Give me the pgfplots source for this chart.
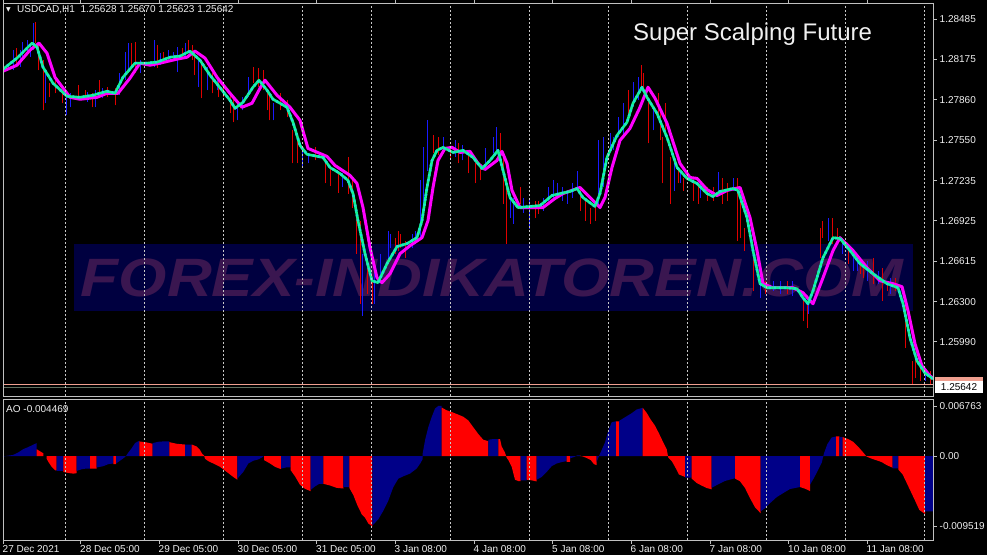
\documentclass[border=0pt]{standalone}
\usepackage{fontspec}
\setmainfont{Liberation Sans}
\newfontfamily\dejavu{DejaVu Sans}
\usepackage{graphicx}
\usepackage{pgfplots}
\pgfplotsset{compat=1.18}
\usepackage{pgfplotstable}

\definecolor{framecol}{HTML}{C0C0C0}
\definecolor{gridcol}{HTML}{C8C8C8}
\definecolor{labelcol}{HTML}{F0F0F0}
\definecolor{cblue}{HTML}{1A1AFF}
\definecolor{cred}{HTML}{E00000}
\definecolor{fastcol}{HTML}{10F590}
\definecolor{fastcol2}{HTML}{20E0D0}
\definecolor{slowcol}{HTML}{FF00FF}
\definecolor{aoblue}{HTML}{000088}
\definecolor{aored}{HTML}{FF0000}
\definecolor{wmbg}{HTML}{000040}
\definecolor{wmtext}{HTML}{3A1650}
\definecolor{askcol}{HTML}{F0A090}
\definecolor{bidcol}{HTML}{607060}

\pgfplotstableread{
x lo hi
13 1.28089 1.28244
20 1.28113 1.28244
22 1.28190 1.28306
27 1.28221 1.28322
30 1.28190 1.28299
33 1.28244 1.28454
45 1.27834 1.28089
66 1.27741 1.27934
70 1.27803 1.27911
87 1.27842 1.27919
95 1.27803 1.27934
102 1.27872 1.27950
119 1.27896 1.28066
125 1.28012 1.28229
128 1.28066 1.28299
140 1.28066 1.28167
154 1.28113 1.28322
160 1.28128 1.28221
168 1.28167 1.28244
173 1.28167 1.28229
177 1.28074 1.28268
185 1.28190 1.28299
198 1.27958 1.28167
207 1.27934 1.28113
217 1.27934 1.28035
237 1.27702 1.27857
242 1.27779 1.27880
248 1.27880 1.28035
273 1.27702 1.27834
302 1.27338 1.27469
308 1.27369 1.27446
342 1.27183 1.27291
362 1.26191 1.26671
374 1.26284 1.26617
380 1.26462 1.26671
388 1.26617 1.26849
390 1.26718 1.26826
412 1.26718 1.26826
415 1.26749 1.26849
420 1.26795 1.27237
423 1.27059 1.27493
427 1.27314 1.27702
443 1.27469 1.27570
455 1.27415 1.27547
462 1.27392 1.27508
485 1.27314 1.27485
493 1.27446 1.27570
496 1.27469 1.27648
510 1.26950 1.27136
513 1.26904 1.27105
523 1.26989 1.27098
529 1.26865 1.27105
543 1.27004 1.27105
548 1.27082 1.27183
553 1.27082 1.27237
557 1.27105 1.27214
562 1.27082 1.27183
567 1.27059 1.27159
572 1.27105 1.27214
577 1.27159 1.27314
598 1.27059 1.27547
603 1.27183 1.27570
610 1.27469 1.27601
613 1.27469 1.27570
618 1.27570 1.27725
623 1.27570 1.27834
633 1.27818 1.27996
638 1.27857 1.28035
653 1.27624 1.27779
674 1.27159 1.27369
680 1.27214 1.27314
700 1.27105 1.27214
718 1.27159 1.27299
733 1.27159 1.27260
760 1.26330 1.26485
773 1.26384 1.26462
780 1.26361 1.26462
792 1.26346 1.26462
808 1.26206 1.26330
828 1.26772 1.26950
842 1.26671 1.26795
853 1.26539 1.26694
857 1.26539 1.26640
867 1.26462 1.26617
878 1.26439 1.26539
890 1.26361 1.26485
925 1.25687 1.25788
}\bluecandles

\pgfplotstableread{
x lo hi
3 1.28027 1.28113
16 1.28128 1.28260
35 1.28299 1.28461
38 1.28089 1.28299
43 1.27779 1.28167
49 1.27880 1.27989
55 1.27911 1.28012
62 1.27834 1.27934
78 1.27872 1.27973
85 1.27857 1.27934
92 1.27803 1.27911
99 1.27911 1.28012
107 1.27880 1.27958
115 1.27818 1.27950
131 1.28113 1.28299
135 1.28066 1.28306
157 1.28105 1.28283
163 1.28144 1.28229
182 1.28183 1.28260
188 1.28229 1.28322
192 1.28167 1.28283
194 1.28051 1.28221
201 1.27872 1.28167
212 1.27911 1.28066
218 1.27880 1.28012
223 1.27880 1.27989
230 1.27756 1.27911
233 1.27686 1.27872
253 1.27989 1.28113
258 1.27958 1.28105
263 1.27934 1.28089
267 1.27779 1.27934
269 1.27702 1.27911
280 1.27779 1.27911
287 1.27725 1.27857
292 1.27369 1.27624
297 1.27369 1.27570
315 1.27392 1.27493
325 1.27214 1.27392
330 1.27198 1.27338
338 1.27144 1.27314
348 1.27136 1.27415
352 1.27028 1.27237
356 1.26671 1.27028
360 1.26284 1.26927
367 1.26361 1.26563
372 1.26284 1.26462
395 1.26671 1.26795
398 1.26694 1.26849
400 1.26718 1.26826
405 1.26640 1.26772
433 1.27446 1.27586
438 1.27431 1.27570
450 1.27407 1.27485
458 1.27369 1.27524
468 1.27291 1.27446
475 1.27214 1.27369
480 1.27237 1.27338
500 1.27369 1.27601
503 1.27059 1.27446
506 1.26749 1.27183
520 1.27059 1.27183
535 1.26950 1.27082
538 1.26981 1.27082
580 1.27004 1.27183
585 1.26927 1.27105
590 1.26904 1.27028
595 1.26927 1.27059
628 1.27725 1.27934
641 1.27958 1.28128
643 1.27911 1.28066
648 1.27524 1.27857
658 1.27725 1.27911
660 1.27547 1.27779
662 1.27214 1.27570
665 1.27624 1.27834
670 1.27059 1.27415
678 1.27214 1.27338
683 1.27159 1.27260
693 1.27082 1.27260
698 1.27059 1.27214
707 1.27082 1.27183
713 1.27082 1.27183
722 1.27059 1.27260
727 1.27082 1.27214
737 1.26772 1.27260
740 1.26795 1.27105
744 1.26694 1.26873
753 1.26384 1.26671
765 1.26361 1.26462
787 1.26361 1.26462
803 1.26152 1.26330
807 1.26098 1.26284
820 1.26640 1.26873
822 1.26795 1.26927
832 1.26749 1.26950
837 1.26749 1.26873
848 1.26594 1.26749
860 1.26516 1.26640
863 1.26485 1.26594
873 1.26439 1.26640
882 1.26307 1.26563
887 1.26384 1.26462
895 1.26384 1.26485
905 1.25943 1.26284
912 1.25664 1.25842
915 1.25710 1.25865
920 1.25687 1.25819
930 1.25664 1.25764
}\redcandles

\pgfplotstableread{
x y
3 1.28097
17 1.28183
32 1.28299
37 1.28268
43 1.28113
53 1.27989
67 1.27888
80 1.27880
93 1.27896
107 1.27927
115 1.27911
123 1.28035
135 1.28144
147 1.28144
157 1.28152
170 1.28190
180 1.28198
190 1.28237
200 1.28167
210 1.28051
222 1.27935
230 1.27857
235 1.27795
243 1.27842
253 1.27958
259 1.28012
267 1.27935
273 1.27865
287 1.27803
293 1.27687
300 1.27508
307 1.27439
323 1.27415
330 1.27338
340 1.27291
348 1.27237
353 1.27136
358 1.26927
365 1.26671
372 1.26462
378 1.26447
387 1.26594
397 1.26726
407 1.26749
417 1.26795
422 1.26927
427 1.27183
432 1.27392
437 1.27470
443 1.27493
453 1.27454
463 1.27470
473 1.27415
482 1.27330
490 1.27392
498 1.27470
503 1.27315
510 1.27105
518 1.27028
530 1.27036
540 1.27043
552 1.27121
560 1.27136
570 1.27152
577 1.27175
583 1.27105
595 1.27036
600 1.27136
607 1.27415
617 1.27586
627 1.27687
633 1.27834
642 1.27958
647 1.27880
657 1.27756
667 1.27570
677 1.27338
687 1.27253
697 1.27214
707 1.27136
713 1.27113
720 1.27152
733 1.27175
738 1.27160
747 1.26950
753 1.26695
760 1.26439
767 1.26408
787 1.26408
797 1.26400
803 1.26330
808 1.26284
813 1.26385
823 1.26640
833 1.26795
840 1.26788
850 1.26695
860 1.26594
873 1.26516
887 1.26439
898 1.26408
903 1.26284
910 1.26020
917 1.25842
925 1.25749
933 1.25703
}\fastline

\pgfplotsset{
  mtbase/.style={
    scale only axis, width=930pt, xmin=3, xmax=933,
    axis line style={draw=framecol, line width=0.8pt},
    tick style={draw=framecol, line width=0.8pt},
    tick align=outside, major tick length=3.5pt, minor tick length=0pt,
    minor xtick={65,144,223,302,371,450,529,608,687,766,845,924},
    xminorgrids,
    minor x grid style={gridcol, dash pattern=on 2pt off 2pt, line width=0.8pt},
    ytick pos=right, yticklabel pos=right,
    yticklabel style={anchor=west, text=labelcol, font=\fontsize{10}{12}\selectfont, inner sep=0pt, xshift=3pt},
    scaled y ticks=false,
    axis on top,
  },
  candles/.style={draw=none, mark=none, forget plot,
    error bars/.cd, y dir=plus, y explicit, error mark=none,
    error bar style={draw=#1, line width=1pt, solid}},
}

\begin{document}
\begin{tikzpicture}
\useasboundingbox (0,0) rectangle (987pt,555pt);
\fill[black] (0,0) rectangle (987pt,555pt);
% watermark
\fill[wmbg] (74pt,244pt) rectangle (913pt,311pt);
\node[text=wmtext, inner sep=0pt, anchor=center] at (492pt,277.5pt)
  {\scalebox{1.15}[1]{\fontsize{54}{60}\selectfont\bfseries\itshape FOREX-INDIKATOREN.COM}};

% ---------- price panel ----------
\begin{axis}[mtbase,
  at={(3pt,159pt)}, anchor=south west, height=393pt,
  ymin=1.25571, ymax=1.28609,
  xtick={3,80.5,159,238,316.5,395,474,552.5,631,710,788.5,867},
  xticklabels={},
  xtick pos=right,
  ytick={1.28485,1.28175,1.27860,1.27550,1.27235,1.26925,1.26615,1.26300,1.25990},
  yticklabels={1.28485,1.28175,1.27860,1.27550,1.27235,1.26925,1.26615,1.26300,1.25990},
]
\addplot[askcol, line width=0.8pt, forget plot] coordinates {(3,1.25664) (933,1.25664)};
\addplot[bidcol, line width=0.8pt, forget plot] coordinates {(3,1.25640) (933,1.25640)};
\addplot[candles=cblue] table[x=x, y=lo, y error expr=\thisrow{hi}-\thisrow{lo}] {\bluecandles};
\addplot[candles=cred] table[x=x, y=lo, y error expr=\thisrow{hi}-\thisrow{lo}] {\redcandles};
% slow line (magenta)
\addplot[slowcol, line width=3pt, line join=round] coordinates {
(3,1.28082) (17,1.28128) (30,1.28245) (39,1.28299) (47,1.28221) (55,1.28035)
(70,1.27880) (80,1.27865) (97,1.27880) (107,1.27911) (118,1.27911) (130,1.28028)
(140,1.28144) (150,1.28128) (160,1.28144) (177,1.28175) (187,1.28190) (195,1.28237)
(205,1.28183) (217,1.28035) (230,1.27911) (242,1.27803) (252,1.27834) (260,1.27950)
(265,1.28012) (277,1.27896) (290,1.27803) (300,1.27702) (308,1.27485) (327,1.27423)
(335,1.27353) (350,1.27276) (357,1.27214) (363,1.27028) (370,1.26718) (377,1.26485)
(382,1.26447) (390,1.26516) (400,1.26671) (410,1.26733) (422,1.26795) (428,1.26927)
(433,1.27183) (438,1.27392) (445,1.27485) (452,1.27493) (460,1.27454) (470,1.27462)
(478,1.27369) (485,1.27322) (497,1.27392) (502,1.27462) (507,1.27369) (512,1.27160)
(520,1.27028) (533,1.27028) (543,1.27028) (555,1.27098) (563,1.27136) (580,1.27183)
(590,1.27105) (600,1.27028) (605,1.27105) (612,1.27338) (620,1.27547) (630,1.27640)
(640,1.27803) (648,1.27958) (655,1.27873) (667,1.27679) (680,1.27369) (690,1.27260)
(697,1.27253) (707,1.27167) (717,1.27121) (727,1.27160) (740,1.27183) (750,1.26950)
(757,1.26695) (763,1.26439) (773,1.26408) (793,1.26408) (803,1.26369) (813,1.26284)
(823,1.26485) (833,1.26695) (840,1.26795) (853,1.26695) (867,1.26563) (880,1.26462)
(893,1.26439) (902,1.26416) (908,1.26230) (915,1.25974) (922,1.25803) (930,1.25726)
(933,1.25710)};
% fast line (green with cyan stipple)
\addplot[fastcol, line width=2.6pt, line join=round] table[x=x, y=y] {\fastline};
\addplot[fastcol2, line width=2.6pt, line join=round, dash pattern=on 2pt off 3pt, forget plot] table[x=x, y=y] {\fastline};
\end{axis}

% ---------- AO panel ----------
\begin{axis}[mtbase,
  at={(3pt,15pt)}, anchor=south west, height=141pt,
  ymin=-0.01134, ymax=0.007695,
  xtick={3,80.5,159,238,316.5,395,474,552.5,631,710,788.5,867},
  xticklabels={27 Dec 2021,28 Dec 05:00,29 Dec 05:00,30 Dec 05:00,31 Dec 05:00,3 Jan 08:00,4 Jan 08:00,5 Jan 08:00,6 Jan 08:00,7 Jan 08:00,10 Jan 08:00,11 Jan 08:00},
  xtick pos=left,
  xticklabel style={anchor=north west, text=labelcol, font=\fontsize{10}{12}\selectfont, inner sep=0pt, xshift=-0.5pt, yshift=-1.5pt},
  ytick={-0.009519,0,0.006763},
  yticklabels={-0.009519,0.00,0.006763},
]
\addplot[fill=aoblue, draw=none] coordinates {(3,0)(3,-0.00009)(8,0.00005)(13,0.00014)(18,0.00046)(23,0.00091)(28,0.00119)(33,0.00151)(36.7,0.00174)(36.7,0)} \closedcycle;
\addplot[fill=aored, draw=none] coordinates {(36.7,0)(36.7,0.00091)(40,0.00064)(43.3,0.00037)(43.3,0)} \closedcycle;
\addplot[fill=aored, draw=none] coordinates {(46.7,0)(46.7,-0.00037)(48.3,-0.00078)(51.7,-0.00146)(55,-0.00192)(56.7,-0.00195)(56.7,0)} \closedcycle;
\addplot[fill=aoblue, draw=none] coordinates {(56.7,0)(56.7,-0.00201)(63.3,-0.00201)(63.3,0)} \closedcycle;
\addplot[fill=aored, draw=none] coordinates {(63.3,0)(63.3,-0.00215)(68.3,-0.00229)(73.3,-0.00238)(76.7,-0.00232)(76.7,0)} \closedcycle;
\addplot[fill=aoblue, draw=none] coordinates {(76.7,0)(76.7,-0.00201)(81.7,-0.00178)(86.7,-0.00169)(90,-0.00169)(90,0)} \closedcycle;
\addplot[fill=aored, draw=none] coordinates {(90,0)(90,-0.00169)(96.7,-0.00169)(96.7,0)} \closedcycle;
\addplot[fill=aoblue, draw=none] coordinates {(96.7,0)(96.7,-0.00155)(103.3,-0.00137)(108.3,-0.00110)(113.3,-0.00101)(113.3,0)} \closedcycle;
\addplot[fill=aored, draw=none] coordinates {(113.3,0)(113.3,-0.00110)(116,-0.00110)(116,0)} \closedcycle;
\addplot[fill=aoblue, draw=none] coordinates {(116,0)(116,-0.00101)(120,-0.00064)(123.3,-0.00032)(126,0)(128.3,0.00046)(131.7,0.00105)(135,0.00174)(139.3,0.00206)(139.3,0)} \closedcycle;
\addplot[fill=aored, draw=none] coordinates {(139.3,0)(139.3,0.00197)(146.7,0.00183)(152.7,0.00165)(152.7,0)} \closedcycle;
\addplot[fill=aoblue, draw=none] coordinates {(152.7,0)(152.7,0.00174)(158.3,0.00192)(163.3,0.00197)(169.3,0.00197)(169.3,0)} \closedcycle;
\addplot[fill=aored, draw=none] coordinates {(169.3,0)(169.3,0.00187)(176.7,0.00165)(185,0.00155)(185,0)} \closedcycle;
\addplot[fill=aoblue, draw=none] coordinates {(185,0)(185,0.00155)(191.7,0.00155)(191.7,0)} \closedcycle;
\addplot[fill=aored, draw=none] coordinates {(191.7,0)(191.7,0.00155)(196.7,0.00128)(200,0.00082)(202.3,0.00027)(204,0.0001)(205,-0.00037)(208.3,-0.00069)(213.3,-0.00101)(220,-0.00146)(226.7,-0.00215)(233.3,-0.00283)(237.3,-0.00320)(237.3,0)} \closedcycle;
\addplot[fill=aoblue, draw=none] coordinates {(237.3,0)(237.3,-0.00306)(243.3,-0.00215)(248.3,-0.00101)(253.3,-0.00064)(258.3,-0.00046)(263.3,-0.00009)(263.3,0)} \closedcycle;
\addplot[fill=aored, draw=none] coordinates {(264,0)(264,-0.00055)(270,-0.00101)(275,-0.00146)(281,-0.00178)(281,0)} \closedcycle;
\addplot[fill=aoblue, draw=none] coordinates {(281,0)(281,-0.00169)(286,-0.00155)(290.7,-0.00155)(290.7,0)} \closedcycle;
\addplot[fill=aored, draw=none] coordinates {(290.7,0)(290.7,-0.00192)(295,-0.00274)(300,-0.00389)(305,-0.00443)(310.7,-0.00475)(310.7,0)} \closedcycle;
\addplot[fill=aoblue, draw=none] coordinates {(310.7,0)(310.7,-0.00457)(315,-0.00411)(319.3,-0.00375)(323.3,-0.00375)(323.3,0)} \closedcycle;
\addplot[fill=aored, draw=none] coordinates {(323.3,0)(323.3,-0.00375)(330,-0.00398)(336.7,-0.00430)(343.3,-0.00439)(343.3,0)} \closedcycle;
\addplot[fill=aoblue, draw=none] coordinates {(343.3,0)(343.3,-0.00420)(349.3,-0.00420)(349.3,0)} \closedcycle;
\addplot[fill=aored, draw=none] coordinates {(349.3,0)(349.3,-0.00430)(353.3,-0.00526)(357.3,-0.00663)(361.7,-0.00786)(365,-0.00832)(368.3,-0.00910)(372.3,-0.00952)(372.3,0)} \closedcycle;
\addplot[fill=aoblue, draw=none] coordinates {(372.3,0)(372.3,-0.00940)(378.3,-0.00855)(383.3,-0.00740)(388.3,-0.00603)(393.3,-0.00420)(398.3,-0.00306)(403.3,-0.00274)(410,-0.00238)(416.7,-0.00169)(420.7,-0.00091)(422.7,-0.0004)(422.7,0.00037)(425.3,0.00229)(428.3,0.00388)(431.7,0.00526)(435,0.00640)(438.3,0.006763)(441.7,0.006763)(441.7,0)} \closedcycle;
\addplot[fill=aored, draw=none] coordinates {(441.7,0)(441.7,0.00654)(446.7,0.00617)(451.7,0.00594)(456.7,0.00567)(463.3,0.00530)(468.3,0.00480)(473.3,0.00388)(478.3,0.00297)(483.3,0.00219)(488.3,0.00201)(488.3,0)} \closedcycle;
\addplot[fill=aoblue, draw=none] coordinates {(488.3,0)(488.3,0.00219)(493.3,0.00229)(498.3,0.00229)(498.3,0)} \closedcycle;
\addplot[fill=aored, draw=none] coordinates {(498.3,0)(498.3,0.00229)(500,0.00229)(501.7,0.00128)(505,0.00046)(506.7,-0.00023)(508.3,-0.00055)(511.7,-0.00146)(515,-0.00320)(518.3,-0.00338)(520.7,-0.00338)(520.7,0)} \closedcycle;
\addplot[fill=aoblue, draw=none] coordinates {(520.7,0)(520.7,-0.00329)(526.7,-0.00329)(526.7,0)} \closedcycle;
\addplot[fill=aored, draw=none] coordinates {(526.7,0)(526.7,-0.00320)(531.7,-0.00329)(536.7,-0.00343)(536.7,0)} \closedcycle;
\addplot[fill=aoblue, draw=none] coordinates {(536.7,0)(536.7,-0.00320)(541.7,-0.00283)(546.7,-0.00215)(551.7,-0.00137)(556.7,-0.00101)(561.7,-0.00082)(566.7,-0.00069)(566.7,0)} \closedcycle;
\addplot[fill=aored, draw=none] coordinates {(566.7,0)(566.7,-0.00078)(570,-0.00078)(570,0)} \closedcycle;
\addplot[fill=aoblue, draw=none] coordinates {(570,0)(570,-0.00032)(574,-0.00014)(577.3,0.00009)(580,0.00009)(580,0)} \closedcycle;
\addplot[fill=aored, draw=none] coordinates {(580,0)(580,0.00005)(583.3,-0.00009)(586.7,-0.00027)(590.7,-0.00055)(594,-0.00110)(596.7,-0.00123)(596.7,0)} \closedcycle;
\addplot[fill=aoblue, draw=none] coordinates {(596.7,0)(596.7,-0.00078)(599,0)(601.7,0.00082)(605,0.00183)(608.3,0.00341)(611.7,0.00455)(616,0.00469)(616,0)} \closedcycle;
\addplot[fill=aored, draw=none] coordinates {(616,0)(616,0.00469)(619,0.00469)(619,0)} \closedcycle;
\addplot[fill=aoblue, draw=none] coordinates {(619,0)(619,0.00473)(625,0.00523)(631.7,0.00578)(636.7,0.00628)(642.7,0.00651)(642.7,0)} \closedcycle;
\addplot[fill=aored, draw=none] coordinates {(642.7,0)(642.7,0.00651)(646.7,0.00582)(650.7,0.00491)(655,0.00410)(659.3,0.00296)(663.3,0.00182)(666.7,0.00091)(668.3,-0.00023)(671.7,-0.00068)(675,-0.00146)(679,-0.00250)(685,-0.00282)(685,0)} \closedcycle;
\addplot[fill=aoblue, draw=none] coordinates {(685,0)(685,-0.00291)(691.7,-0.00291)(691.7,0)} \closedcycle;
\addplot[fill=aored, draw=none] coordinates {(691.7,0)(691.7,-0.00305)(696.7,-0.00364)(701.7,-0.00400)(706.7,-0.00432)(711.7,-0.00450)(711.7,0)} \closedcycle;
\addplot[fill=aoblue, draw=none] coordinates {(711.7,0)(711.7,-0.00428)(718.3,-0.00382)(725,-0.00337)(735,-0.00300)(735,0)} \closedcycle;
\addplot[fill=aored, draw=none] coordinates {(735,0)(735,-0.00305)(740,-0.00341)(745,-0.00432)(750,-0.00569)(755,-0.00692)(760.7,-0.00774)(760.7,0)} \closedcycle;
\addplot[fill=aoblue, draw=none] coordinates {(760.7,0)(760.7,-0.00746)(765,-0.00705)(770,-0.00637)(776.7,-0.00555)(783.3,-0.00500)(790,-0.00446)(800,-0.00419)(800,0)} \closedcycle;
\addplot[fill=aored, draw=none] coordinates {(800,0)(800,-0.00419)(805,-0.00441)(810,-0.00473)(810,0)} \closedcycle;
\addplot[fill=aoblue, draw=none] coordinates {(810,0)(810,-0.00387)(814,-0.00296)(818.3,-0.00182)(821.7,-0.00091)(824,0.00036)(827.3,0.00159)(831.7,0.00250)(836,0.00264)(836,0)} \closedcycle;
\addplot[fill=aored, draw=none] coordinates {(836,0)(836,0.00264)(839.3,0.00264)(839.3,0)} \closedcycle;
\addplot[fill=aoblue, draw=none] coordinates {(839.3,0)(839.3,0.00255)(842.7,0.00255)(842.7,0)} \closedcycle;
\addplot[fill=aored, draw=none] coordinates {(842.7,0)(842.7,0.00255)(848.3,0.00228)(853.3,0.00191)(858.3,0.00123)(863.3,0.00046)(866.7,-0.00009)(871.7,-0.00036)(876.7,-0.00059)(881.7,-0.00082)(886.7,-0.00123)(892.7,-0.00159)(892.7,0)} \closedcycle;
\addplot[fill=aoblue, draw=none] coordinates {(892.7,0)(892.7,-0.00168)(898.3,-0.00168)(898.3,0)} \closedcycle;
\addplot[fill=aored, draw=none] coordinates {(898.3,0)(898.3,-0.00182)(902.7,-0.00250)(906.7,-0.00364)(910.7,-0.00478)(915,-0.00601)(919.3,-0.00728)(925,-0.00783)(925,0)} \closedcycle;
\addplot[fill=aoblue, draw=none] coordinates {(925,0)(925,-0.00746)(933,-0.00746)(933,0)} \closedcycle;
\end{axis}

% texts
\node[anchor=west, inner sep=0pt, text=labelcol] at (6pt,545pt) {\dejavu\fontsize{6}{7}\selectfont ▼};
\node[anchor=west, inner sep=0pt, text=labelcol] at (17pt,545pt) {\fontsize{10}{12}\selectfont USDCAD,H1\ \ 1.25628 1.25670 1.25623 1.25642};
\node[anchor=base west, inner sep=0pt, text=labelcol] at (633pt,514pt) {\fontsize{24}{28}\selectfont Super Scalping Future};
\node[anchor=west, inner sep=0pt, text=labelcol] at (6pt,146pt) {\fontsize{10}{12}\selectfont AO -0.004469};
% current price label
\fill[askcol] (935pt,172pt) rectangle (983pt,178pt);
\fill[white] (935pt,162pt) rectangle (983pt,174pt);
\node[anchor=center, inner sep=0pt, text=black] at (959pt,168pt) {\fontsize{10}{12}\selectfont 1.25642};
\end{tikzpicture}
\end{document}
